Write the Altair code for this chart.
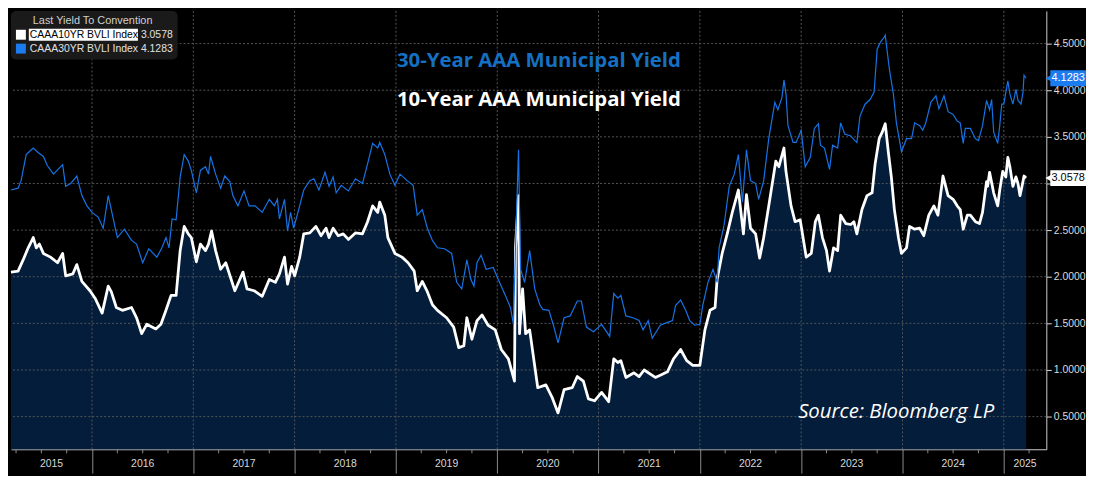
import altair as alt
import pandas as pd

# ---- data (decimal years, yield in %) ----
t10 = [
    2015.20, 2015.27, 2015.32, 2015.37, 2015.42, 2015.45, 2015.48, 2015.52, 2015.59, 2015.66, 2015.71, 2015.74, 2015.81, 2015.85, 2015.90, 2015.98,
    2016.03, 2016.10, 2016.16, 2016.19, 2016.24, 2016.30, 2016.39, 2016.44, 2016.49, 2016.54, 2016.63, 2016.68, 2016.73, 2016.78, 2016.83, 2016.87, 2016.91, 2016.95, 2016.98,
    2017.03, 2017.07, 2017.12, 2017.15, 2017.18, 2017.22, 2017.27, 2017.32, 2017.41, 2017.49, 2017.53, 2017.60, 2017.68, 2017.75, 2017.81, 2017.85, 2017.90, 2017.93, 2017.97,
    2018.00, 2018.05, 2018.09, 2018.15, 2018.21, 2018.26, 2018.31, 2018.34, 2018.38, 2018.43, 2018.48, 2018.53, 2018.60, 2018.67, 2018.72, 2018.77, 2018.82, 2018.84, 2018.89, 2018.92, 2018.99,
    2019.06, 2019.12, 2019.18, 2019.21, 2019.26, 2019.31, 2019.36, 2019.41, 2019.50, 2019.57, 2019.62, 2019.67, 2019.70, 2019.75, 2019.80, 2019.85, 2019.91, 2019.98,
    2020.04, 2020.11, 2020.17, 2020.18, 2020.21, 2020.22, 2020.25, 2020.28, 2020.32, 2020.40, 2020.48, 2020.54, 2020.60, 2020.66, 2020.74, 2020.79, 2020.85, 2020.90, 2020.96,
    2021.03, 2021.10, 2021.15, 2021.19, 2021.22, 2021.27, 2021.35, 2021.40, 2021.45, 2021.56, 2021.62, 2021.68, 2021.74, 2021.81, 2021.87, 2021.93,
    2022.00, 2022.05, 2022.10, 2022.15, 2022.17, 2022.22, 2022.27, 2022.32, 2022.38, 2022.43, 2022.46, 2022.50, 2022.55, 2022.59, 2022.63, 2022.68, 2022.75, 2022.78, 2022.83, 2022.85, 2022.90, 2022.94, 2022.99,
    2023.05, 2023.10, 2023.14, 2023.17, 2023.21, 2023.25, 2023.28, 2023.32, 2023.36, 2023.39, 2023.44, 2023.49, 2023.52, 2023.55, 2023.60, 2023.65, 2023.70, 2023.73, 2023.77, 2023.80, 2023.83, 2023.86, 2023.89, 2023.92, 2023.96, 2023.99,
    2024.04, 2024.07, 2024.12, 2024.17, 2024.21, 2024.26, 2024.31, 2024.35, 2024.40, 2024.45, 2024.50, 2024.54, 2024.57, 2024.60, 2024.64, 2024.67, 2024.72, 2024.76, 2024.79, 2024.83, 2024.84, 2024.86, 2024.90, 2024.94, 2024.96, 2024.99,
    2025.02, 2025.04, 2025.06, 2025.09, 2025.12, 2025.14, 2025.16, 2025.18, 2025.20, 2025.22,
]
y10 = [
    2.05, 2.06, 2.18, 2.31, 2.42, 2.31, 2.35, 2.25, 2.21, 2.15, 2.25, 2.01, 2.03, 2.13, 1.95, 1.85,
    1.77, 1.61, 1.90, 1.84, 1.67, 1.64, 1.67, 1.56, 1.39, 1.49, 1.44, 1.49, 1.64, 1.80, 1.80, 2.28, 2.54, 2.46, 2.42,
    2.16, 2.35, 2.28, 2.35, 2.49, 2.28, 2.08, 2.15, 1.85, 2.05, 1.87, 1.85, 1.79, 1.97, 1.94, 2.03, 2.21, 1.92, 2.11,
    2.01, 2.21, 2.46, 2.47, 2.54, 2.44, 2.52, 2.42, 2.52, 2.44, 2.46, 2.40, 2.47, 2.46, 2.59, 2.76, 2.69, 2.80, 2.66, 2.42, 2.25,
    2.21, 2.15, 2.06, 1.85, 1.95, 1.84, 1.70, 1.64, 1.56, 1.46, 1.24, 1.26, 1.56, 1.33, 1.53, 1.59, 1.48, 1.43,
    1.22, 1.12, 0.88, 2.31, 2.87, 1.39, 1.87, 1.39, 1.43, 0.81, 0.84, 0.71, 0.54, 0.79, 0.81, 0.93, 0.88, 0.69, 0.67,
    0.76, 0.66, 1.12, 1.08, 1.10, 0.92, 0.97, 0.93, 1.00, 0.92, 0.95, 0.98, 1.12, 1.22, 1.10, 1.05,
    1.05, 1.43, 1.64, 1.67, 1.97, 2.25, 2.46, 2.69, 2.93, 2.46, 2.88, 2.52, 2.46, 2.20, 2.42, 2.76, 3.24, 3.18, 3.38, 3.13, 2.76, 2.59, 2.61,
    2.21, 2.25, 2.59, 2.66, 2.42, 2.28, 2.06, 2.31, 2.28, 2.66, 2.57, 2.56, 2.59, 2.46, 2.72, 2.87, 2.90, 3.21, 3.48, 3.55, 3.64, 3.34, 3.07, 2.72, 2.42, 2.25,
    2.31, 2.54, 2.51, 2.52, 2.44, 2.66, 2.76, 2.66, 3.08, 2.87, 2.83, 2.76, 2.72, 2.51, 2.66, 2.66, 2.59, 2.57, 2.69, 3.02, 2.97, 3.12, 2.90, 2.76, 2.93, 3.13,
    3.07, 3.28, 3.18, 2.97, 3.07, 3.00, 2.87, 2.97, 3.08, 3.0578,
]

t30 = [
    2015.20, 2015.27, 2015.30, 2015.35, 2015.38, 2015.42, 2015.47, 2015.52, 2015.56, 2015.62, 2015.69, 2015.71, 2015.74, 2015.79, 2015.85, 2015.90, 2015.95,
    2016.00, 2016.06, 2016.11, 2016.16, 2016.19, 2016.25, 2016.32, 2016.39, 2016.44, 2016.50, 2016.56, 2016.64, 2016.69, 2016.73, 2016.76, 2016.79, 2016.83, 2016.87, 2016.91, 2016.95, 2016.98,
    2017.03, 2017.07, 2017.12, 2017.15, 2017.17, 2017.22, 2017.27, 2017.31, 2017.36, 2017.39, 2017.44, 2017.50, 2017.55, 2017.61, 2017.68, 2017.75, 2017.80, 2017.83, 2017.85, 2017.90, 2017.93, 2017.96, 2017.99,
    2018.04, 2018.09, 2018.15, 2018.19, 2018.24, 2018.30, 2018.34, 2018.38, 2018.41, 2018.46, 2018.53, 2018.60, 2018.67, 2018.72, 2018.77, 2018.82, 2018.84, 2018.89, 2018.94, 2018.99,
    2019.04, 2019.11, 2019.17, 2019.21, 2019.26, 2019.31, 2019.36, 2019.41, 2019.48, 2019.55, 2019.60, 2019.65, 2019.70, 2019.74, 2019.77, 2019.80, 2019.84, 2019.89, 2019.96,
    2020.01, 2020.08, 2020.13, 2020.16, 2020.18, 2020.21, 2020.23, 2020.27, 2020.32, 2020.37, 2020.42, 2020.45, 2020.51, 2020.56, 2020.60, 2020.66, 2020.72, 2020.79, 2020.83, 2020.88, 2020.95,
    2021.03, 2021.11, 2021.15, 2021.19, 2021.22, 2021.27, 2021.34, 2021.40, 2021.44, 2021.49, 2021.53, 2021.61, 2021.68, 2021.73, 2021.76, 2021.81, 2021.86, 2021.90, 2021.95,
    2022.00, 2022.03, 2022.08, 2022.13, 2022.17, 2022.19, 2022.24, 2022.29, 2022.34, 2022.38, 2022.42, 2022.46, 2022.50, 2022.55, 2022.58, 2022.63, 2022.68, 2022.74, 2022.77, 2022.81, 2022.83, 2022.85, 2022.87, 2022.92, 2022.95,
    2023.00, 2023.04, 2023.09, 2023.13, 2023.17, 2023.19, 2023.23, 2023.28, 2023.31, 2023.36, 2023.39, 2023.43, 2023.49, 2023.53, 2023.55, 2023.58, 2023.63, 2023.68, 2023.72, 2023.75, 2023.78, 2023.82, 2023.83, 2023.87, 2023.91, 2023.94, 2023.99,
    2024.04, 2024.09, 2024.12, 2024.17, 2024.20, 2024.23, 2024.28, 2024.33, 2024.36, 2024.41, 2024.45, 2024.50, 2024.54, 2024.57, 2024.60, 2024.62, 2024.67, 2024.72, 2024.75, 2024.79, 2024.83, 2024.86, 2024.88, 2024.90, 2024.94, 2024.96, 2024.98,
    2025.00, 2025.04, 2025.06, 2025.09, 2025.12, 2025.14, 2025.17, 2025.19, 2025.20, 2025.22,
]
y30 = [
    2.93, 2.95, 3.03, 3.31, 3.34, 3.38, 3.33, 3.29, 3.19, 3.10, 3.18, 3.20, 2.97, 3.00, 3.08, 2.87, 2.76,
    2.69, 2.64, 2.52, 2.87, 2.72, 2.42, 2.51, 2.39, 2.35, 2.15, 2.30, 2.21, 2.31, 2.42, 2.31, 2.62, 2.61, 3.07, 3.31, 3.24, 3.14,
    2.90, 3.14, 3.18, 3.10, 3.29, 3.10, 2.95, 3.08, 3.02, 2.87, 2.76, 2.92, 2.76, 2.76, 2.69, 2.83, 2.76, 2.83, 2.62, 2.83, 2.49, 2.69, 2.52,
    2.72, 2.93, 3.03, 3.05, 2.93, 3.12, 2.97, 3.07, 2.90, 2.98, 2.92, 3.05, 3.00, 3.21, 3.43, 3.38, 3.44, 3.31, 3.10, 2.98,
    3.10, 3.03, 2.98, 2.66, 2.72, 2.52, 2.39, 2.31, 2.30, 2.25, 1.94, 1.87, 2.18, 1.97, 1.90, 2.15, 2.23, 2.08, 2.10,
    1.97, 1.80, 1.67, 1.49, 2.31, 3.36, 2.08, 1.94, 2.28, 1.87, 1.70, 1.65, 1.64, 1.46, 1.29, 1.56, 1.58, 1.74, 1.74, 1.46, 1.41,
    1.49, 1.36, 1.82, 1.77, 1.80, 1.58, 1.56, 1.53, 1.43, 1.53, 1.34, 1.48, 1.51, 1.53, 1.69, 1.75, 1.64, 1.53, 1.48,
    1.49, 1.70, 1.94, 2.08, 1.94, 2.31, 2.56, 2.97, 3.10, 3.31, 2.80, 3.36, 3.03, 3.00, 2.83, 3.03, 3.48, 3.87, 3.79, 3.92, 4.11, 3.96, 3.62, 3.44, 3.44,
    3.57, 3.18, 3.28, 3.59, 3.64, 3.41, 3.38, 3.15, 3.41, 3.38, 3.65, 3.53, 3.51, 3.46, 3.44, 3.72, 3.85, 3.90, 3.98, 4.44, 4.51, 4.57, 4.59, 4.23, 3.96, 3.65, 3.34,
    3.48, 3.48, 3.65, 3.62, 3.57, 3.65, 3.87, 3.94, 3.80, 3.94, 3.77, 3.74, 3.67, 3.65, 3.43, 3.59, 3.59, 3.48, 3.46, 3.62, 3.89, 3.79, 3.90, 3.55, 3.43, 3.62, 3.85,
    3.85, 4.10, 3.96, 3.85, 4.01, 3.89, 3.85, 3.98, 4.16, 4.1283,
]
assert len(t10) == len(y10) and len(t30) == len(y30)

tickers = ["CAAA10YR BVLI Index", "CAAA30YR BVLI Index"]
grid_years = list(range(2016, 2026))
grid_yields = [0.5, 1.0, 1.5, 2.0, 2.5, 3.0, 3.5, 4.0, 4.5]
year_labels = [str(y) for y in range(2015, 2026)]
year_label_pos = [2015.60, 2016.5, 2017.5, 2018.5, 2019.5, 2020.5, 2021.5, 2022.5, 2023.5, 2024.5, 2025.21]
quarter_ticks = [y + q / 4 for y in range(2015, 2026) for q in (1, 2, 3) if 2015.2 < y + q / 4 < 2025.42]

W, H = 1044, 442
NAVY = "#031d3b"
BLUE = "#1673e6"
TITLE_BLUE = "#1570c2"
GRID = "#565656"

ten = pd.DataFrame({"t": t10, "v": y10})
thirty = pd.DataFrame({"t": t30, "v": y30})
one = pd.DataFrame({"k": [0]})

x_enc = alt.X(
    "t:Q",
    scale=alt.Scale(domain=[2015.2, 2025.42], nice=False, zero=False),
    axis=alt.Axis(values=grid_years, labels=False, tickSize=24, tickColor="#8c8c8c",
                  domainColor="#cfcfcf", grid=False, title=None),
)
# the 3.0000 label sits under the last-value tag of the 10Y series, as on the terminal
y_enc = alt.Y(
    "v:Q",
    scale=alt.Scale(domain=[0.15, 4.85], nice=False, zero=False),
    axis=alt.Axis(orient="right", values=grid_yields, format=".4f", tickSize=5, tickColor="#dddddd",
                  domainColor="#cfcfcf", labelColor="#dcdcdc", labelFont="Liberation Sans",
                  labelFontSize=10.5, labelPadding=2, grid=False, title=None,
                  labelExpr="datum.value == 3 ? '' : datum.label"),
)

area = alt.Chart(ten).mark_area(color=NAVY).encode(x=x_enc, y=y_enc, y2=alt.datum(0.15))

vgrid = alt.Chart(pd.DataFrame({"t": grid_years})).mark_rule(
    color=GRID, strokeDash=[2, 2], strokeWidth=1).encode(x=x_enc)
hgrid = alt.Chart(pd.DataFrame({"v": grid_yields})).mark_rule(
    color=GRID, strokeDash=[2, 2], strokeWidth=1).encode(y=y_enc)

qticks = alt.Chart(pd.DataFrame({"t": quarter_ticks})).mark_rule(color="#8c8c8c").encode(
    x=x_enc, y=alt.value(H), y2=alt.value(H + 4))

years = alt.Chart(pd.DataFrame({"t": year_label_pos, "label": year_labels})).mark_text(
    color="#d8d8d8", fontSize=10.5, font="Liberation Sans", baseline="middle").encode(
    x=x_enc, y=alt.value(H + 15), text="label:N")

line10 = alt.Chart(ten).mark_line(color="white", strokeWidth=2.8, strokeJoin="round").encode(x=x_enc, y=y_enc)
line30 = alt.Chart(thirty).mark_line(color=BLUE, strokeWidth=1.2).encode(x=x_enc, y=y_enc)

titles = alt.Chart(pd.DataFrame({
    "t": [2019.01, 2019.01], "v": [4.31, 3.89],
    "text": ["30-Year AAA Municipal Yield", "10-Year AAA Municipal Yield"],
    "c": [TITLE_BLUE, "white"],
})).mark_text(align="left", baseline="middle", font="Open Sans", fontWeight="bold", fontSize=20.5).encode(
    x=x_enc, y=y_enc, text="text:N", color=alt.Color("c:N", scale=None))

source = alt.Chart(pd.DataFrame({"t": [2022.97], "v": [0.55], "text": ["Source: Bloomberg LP"]})).mark_text(
    align="left", baseline="middle", font="Open Sans", fontStyle="italic", fontSize=20.5, color="white").encode(
    x=x_enc, y=y_enc, text="text:N")

# last-value tags on the right axis
last = pd.DataFrame({
    "v": [y10[-1], y30[-1]],
    "label": [f"{y10[-1]:.4f}", f"{y30[-1]:.4f}"],
    "fill": ["white", "#1b7cf0"],
    "ink": ["black", "white"],
})
tag_box = alt.Chart(last).mark_rect(yOffset=-8, y2Offset=8).encode(
    x=alt.value(W + 4), x2=alt.value(W + 40), y=y_enc, y2=alt.Y2("v:Q"), fill=alt.Fill("fill:N", scale=None))
tag_tip = alt.Chart(last).mark_point(shape="triangle-left", filled=True, size=45, opacity=1).encode(
    x=alt.value(W + 2), y=y_enc, fill=alt.Fill("fill:N", scale=None))
tag_txt = alt.Chart(last).mark_text(font="Liberation Sans", fontSize=11, baseline="middle").encode(
    x=alt.value(W + 22), y=y_enc, text="label:N", color=alt.Color("ink:N", scale=None))

# legend box, top left
leg_bg = alt.Chart(one).mark_rect(color="#1a1a1a", cornerRadius=5).encode(
    x=alt.value(0), x2=alt.value(168), y=alt.value(0), y2=alt.value(49))
leg_title = alt.Chart(one).mark_text(align="left", baseline="middle", font="Liberation Sans",
                                     fontSize=11, color="#d0d0d0").encode(
    x=alt.value(22), y=alt.value(10), text=alt.value("Last Yield To Convention"))
sw10 = alt.Chart(one).mark_rect(color="white").encode(
    x=alt.value(5), x2=alt.value(15), y=alt.value(19), y2=alt.value(29))
sw30 = alt.Chart(one).mark_rect(color="#1b7cf0").encode(
    x=alt.value(5), x2=alt.value(15), y=alt.value(33), y2=alt.value(43))
hilite = alt.Chart(one).mark_rect(color="white").encode(
    x=alt.value(18), x2=alt.value(128), y=alt.value(18), y2=alt.value(30))
leg_txt = dict(align="left", baseline="middle", font="Liberation Sans", fontSize=10.5)
lab10 = alt.Chart(one).mark_text(color="black", **leg_txt).encode(
    x=alt.value(19), y=alt.value(24), text=alt.value(tickers[0]))
val10 = alt.Chart(one).mark_text(color="#e0e0e0", **leg_txt).encode(
    x=alt.value(131), y=alt.value(24), text=alt.value(f"{y10[-1]:.4f}"))
lab30 = alt.Chart(one).mark_text(color="#e0e0e0", **leg_txt).encode(
    x=alt.value(19), y=alt.value(38), text=alt.value(tickers[1]))
val30 = alt.Chart(one).mark_text(color="#e0e0e0", **leg_txt).encode(
    x=alt.value(131), y=alt.value(38), text=alt.value(f"{y30[-1]:.4f}"))

chart = (
    alt.layer(area, vgrid, hgrid, qticks, years, line10, line30, titles, source,
              tag_box, tag_tip, tag_txt,
              leg_bg, leg_title, sw10, sw30, hilite, lab10, val10, lab30, val30)
    .properties(width=W, height=H, padding=0, background="black")
    .configure_view(stroke=None)
)

chart.save("out.html", embed_options={"renderer": "svg", "actions": False})
